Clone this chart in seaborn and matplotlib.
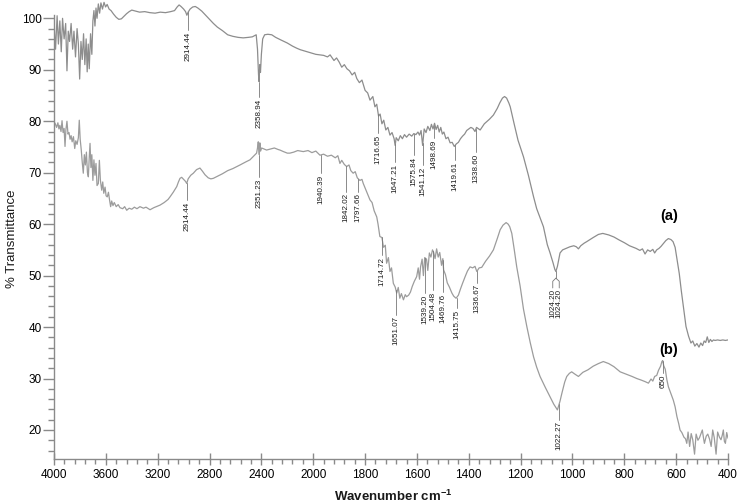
import numpy as np
import pandas as pd
import matplotlib
matplotlib.use("Agg")
import matplotlib.pyplot as plt
import seaborn as sns
from matplotlib.ticker import FixedLocator, FixedFormatter, NullFormatter

# ---------------- data ----------------
wn_a = [4000, 3988, 3976, 3966, 3955, 3944, 3934, 3922, 3910, 3900, 3890, 3880, 3868, 3856, 3846,
        3834, 3822, 3812, 3802, 3792, 3782, 3772, 3762, 3752, 3744, 3736, 3728, 3718, 3708, 3700,
        3692, 3684, 3676, 3668, 3658, 3648, 3638, 3626, 3614, 3602, 3590, 3575, 3560, 3540, 3520,
        3500, 3480, 3460, 3440, 3420, 3400, 3370, 3340, 3300, 3260, 3220, 3180, 3140, 3100, 3070,
        3050, 3035, 3020, 3000, 2985, 2975, 2965, 2950, 2930, 2910, 2890, 2860, 2830, 2800, 2770,
        2740, 2700, 2660, 2620, 2580, 2540, 2500, 2470, 2440, 2430, 2422, 2418, 2412, 2407, 2400,
        2390, 2375, 2350, 2320, 2290, 2250, 2200, 2160, 2128, 2100, 2060, 2020, 1990, 1960, 1945,
        1935, 1920, 1910, 1900, 1890, 1880, 1870, 1860, 1850, 1840, 1832, 1822, 1812, 1800, 1790,
        1781, 1770, 1762, 1755, 1748, 1742, 1735, 1728, 1720, 1712, 1704, 1696, 1688, 1684, 1680,
        1672, 1664, 1656, 1648, 1640, 1630, 1620, 1612, 1604, 1596, 1590, 1584, 1578, 1572, 1565,
        1558, 1550, 1544, 1538, 1532, 1526, 1520, 1514, 1508, 1502, 1496, 1488, 1480, 1472, 1464,
        1456, 1448, 1440, 1432, 1424, 1416, 1408, 1400, 1392, 1384, 1376, 1370, 1362, 1356, 1340,
        1320, 1305, 1290, 1280, 1270, 1262, 1254, 1245, 1240, 1225, 1210, 1189, 1170, 1150, 1138,
        1112, 1097, 1087, 1075, 1068, 1064, 1058, 1048, 1038, 1029, 1010, 995, 985, 977, 968,
        955, 945, 920, 900, 883, 860, 840, 819, 800, 780, 755, 740, 730, 720, 710,
        700, 690, 683, 675, 666, 658, 650, 640, 630, 620, 612, 604, 596, 588, 580,
        572, 562, 552, 543, 536, 528, 520, 512, 505, 498, 492, 486, 480, 474, 468,
        462, 456, 450, 440, 430, 420, 410, 400]
t_a = [99, 94, 100.5, 95, 99.5, 93.5, 100, 96, 99, 89.8, 97.5, 95.5, 99, 94, 97.5,
       92.5, 98, 95, 88.2, 95.5, 92, 97, 91, 96, 89.6, 95, 90.2, 97, 93, 99.5,
       101.5, 98.5, 102, 100, 102.8, 101, 103, 101.8, 103.1, 102.2, 102.7, 101.8, 101.5, 100.8, 100.2,
       99.8, 99.9, 100.4, 100.9, 101.3, 101.6, 101.4, 101.2, 101.3, 101.1, 101, 101.2, 101.1, 101.3, 101.5,
       102.2, 102.6, 102.3, 101.8, 101.3, 100.6, 101.2, 101.8, 102.2, 102.3, 102, 101.4, 100.6, 99.8, 99,
       98.3, 97.6, 96.8, 96.5, 96.3, 96.2, 96.3, 96.4, 96.8, 94, 89, 87.7, 91, 89.5, 93,
       96, 96.8, 96.9, 96.8, 96.3, 95.8, 95.2, 94.6, 94.2, 93.9, 93.6, 93.3, 93, 92.8, 92.5,
       92.9, 91.8, 92.3, 91.5, 90.5, 91, 90.2, 89.8, 89, 89.5, 88.3, 87.5, 88, 86, 85.5,
       84.1, 84.8, 82.8, 83.3, 81, 81.4, 79.5, 80.2, 78.3, 78.8, 77.3, 77.8, 76.6, 75.3, 76.8,
       76.2, 77.2, 76.6, 77.4, 76.9, 77.5, 77.1, 77.6, 77.4, 77.9, 77.3, 78.2, 75.3, 78.5, 77.8,
       79, 78.2, 79.4, 78.5, 79.6, 78.4, 79.2, 77.9, 78.8, 77.5, 77.9, 76.6, 76.9, 75.8, 75.9,
       75.1, 75.6, 75.9, 76.6, 77.1, 77.5, 78.2, 78.5, 78.8, 78.6, 78, 78.8, 78.5, 78.3, 79.5,
       80.4, 81.2, 82.5, 83.6, 84.5, 84.8, 84.5, 83.5, 82.8, 79.5, 76.3, 73.1, 69.5, 65.3, 63,
       59.5, 56, 54.5, 52.5, 51.2, 50.8, 51.8, 54.4, 55, 55.2, 55.6, 55.8, 55.6, 55.2, 55.8,
       56.3, 56.6, 57.4, 58, 58.2, 57.9, 57.5, 56.9, 56.4, 55.8, 55.3, 54.9, 55.2, 54.2, 55,
       54.7, 55.1, 54.4, 55, 55.3, 55.7, 56.2, 56.8, 57.2, 57.0, 56.6, 55.5, 53, 50.4, 47,
       44, 40.1, 38.2, 36.9, 37.3, 36.3, 36.8, 36.1, 36.9, 36.4, 37.3, 37.0, 38.1, 37.0, 37.6,
       37.2, 37.5, 37.4, 37.5, 37.4, 37.5, 37.4, 37.5]

wn_b = [4000, 3990, 3980, 3970, 3962, 3955, 3946, 3938, 3930, 3922, 3915, 3908, 3900, 3892, 3884,
        3876, 3868, 3860, 3850, 3840, 3832, 3822, 3812, 3805, 3798, 3790, 3782, 3774, 3766, 3758,
        3750, 3742, 3735, 3728, 3722, 3715, 3708, 3700, 3692, 3684, 3676, 3668, 3658, 3650, 3642,
        3632, 3624, 3616, 3606, 3598, 3589, 3580, 3572, 3563, 3555, 3545, 3535, 3520, 3505, 3491,
        3470, 3455, 3439, 3420, 3400, 3380, 3360, 3337, 3310, 3290, 3259, 3230, 3200, 3182, 3150,
        3120, 3105, 3080, 3053, 3040, 3028, 3015, 3000, 2985, 2976, 2965, 2945, 2925, 2900, 2874,
        2855, 2835, 2810, 2790, 2771, 2740, 2700, 2660, 2620, 2565, 2520, 2488, 2460, 2437, 2430,
        2424, 2420, 2416, 2412, 2406, 2398, 2380, 2360, 2330, 2300, 2270, 2257, 2230, 2200, 2180,
        2150, 2120, 2077, 2040, 2010, 1990, 1974, 1960, 1945, 1930, 1915, 1905, 1897, 1890, 1880,
        1871, 1862, 1855, 1846, 1838, 1830, 1820, 1812, 1807, 1798, 1790, 1781, 1773, 1765, 1755,
        1750, 1743, 1735, 1729, 1722, 1717, 1710, 1704, 1698, 1691, 1684, 1678, 1672, 1666, 1660,
        1652, 1645, 1640, 1632, 1625, 1618, 1610, 1601, 1595, 1590, 1586, 1580, 1575, 1570, 1563,
        1558, 1552, 1546, 1540, 1536, 1530, 1524, 1518, 1512, 1505, 1500, 1497, 1490, 1483, 1475,
        1465, 1458, 1449, 1440, 1432, 1424, 1414, 1405, 1395, 1385, 1376, 1369, 1360, 1350, 1335,
        1320, 1305, 1290, 1279, 1268, 1256, 1248, 1242, 1234, 1225, 1215, 1202, 1189, 1176, 1163,
        1150, 1138, 1125, 1105, 1087, 1072, 1058, 1048, 1041, 1030, 1022, 1012, 1003, 992, 977,
        960, 940, 920, 900, 881, 860, 840, 816, 790, 770, 752, 735, 720, 707, 697,
        690, 683, 675, 668, 660, 655, 652, 648, 642, 636, 630, 620, 611, 604, 597,
        590, 585, 578, 570, 564, 559, 554, 548, 542, 536, 529, 523, 516, 510, 504,
        499, 495, 491, 484, 478, 471, 465, 459, 453, 446, 440, 433, 427, 422, 418,
        414, 410, 405, 400]
t_b = [79.9, 79.5, 78.8, 79.7, 78.5, 79.2, 78, 80.1, 77.8, 78.6, 75.1, 78.4, 80, 77.5, 77.8,
       76.5, 77.2, 76, 77, 74.7, 76.2, 75.5, 76.8, 80.2, 76.5, 74.5, 72, 69.9, 73.5, 71.5,
       74, 70, 69.2, 73, 75.7, 71, 73.5, 68.5, 72.5, 69.5, 71.8, 67.5, 67.9, 72.4, 68.5,
       66.6, 68.2, 66, 67.2, 65.5, 65.3, 66.2, 64.8, 63.4, 64.5, 63.6, 64.2, 63.4, 63.8, 63.2,
       63, 63.4, 62.7, 63.1, 62.9, 63.3, 63, 63.4, 63.1, 63.3, 62.8, 63.2, 63.5, 63.7, 64.2,
       64.8, 65.3, 66.2, 67.3, 68.2, 68.9, 69.1, 68.7, 68.3, 67.9, 68.8, 69.5, 69.9, 70.6, 70.9,
       70.3, 69.6, 69, 68.8, 68.9, 69.3, 69.8, 70.4, 70.8, 71.5, 72.1, 72.5, 73.2, 73.8, 74.8,
       76, 74.5, 73.5, 75.8, 74.2, 74.8, 74.6, 74.4, 74.6, 74.8, 74.5, 74.4, 74.1, 73.8, 73.8,
       74, 74.3, 74.1, 74.3, 73.9, 74.2, 73.4, 73.6, 73.2, 73.4, 72.9, 73.3, 71.8, 72.4, 71.6,
       71.2, 71.5, 70.4, 69.9, 70.2, 69, 68.5, 68.7, 67.9, 66.8, 65.8, 64.7, 64.2, 62.6, 61.4,
       60, 57.6, 57.4, 55.5, 55.9, 52.4, 53.5, 50.8, 51.5, 48.5, 47.8, 46.6, 47.7, 45.6, 46.5,
       45.3, 46.3, 45.9, 46.2, 46.8, 47.9, 48.9, 49.8, 51.5, 49.3, 51.7, 53.2, 50, 53.5, 53.2,
       51, 54.4, 53.6, 55, 54.6, 53.3, 55.2, 53.6, 54.5, 52, 53.3, 51.1, 50.2, 48.6, 47.8,
       46.6, 46, 45.6, 46.2, 47.4, 48.5, 49.8, 50.9, 51.7, 51.5, 51.8, 50.8, 51.5, 51.6, 52.8,
       53.8, 55, 57.2, 58.9, 59.8, 60.3, 60, 59.5, 58.2, 55.2, 51.7, 48, 43.5, 40.1, 37,
       34.2, 32.2, 30.4, 28.3, 26.5, 25, 23.9, 25.6, 27.1, 29.3, 30.4, 31, 31.3, 30.9, 30.4,
       31.2, 31.7, 32.4, 32.9, 33.3, 32.9, 32.3, 31.3, 30.8, 30.4, 30, 29.7, 29.4, 29.1, 29.9,
       29.5, 30.4, 30.6, 31.6, 32.4, 33.3, 33.5, 32.5, 31.8, 29.8, 28.4, 27, 25.8, 24.5, 22.6,
       21.2, 20, 19.5, 18.6, 18.3, 17.4, 19.6, 16.8, 19.3, 18.1, 15.3, 19.2, 18, 18.5, 19.3,
       20, 18.6, 17.4, 18.8, 19.2, 18.2, 16.8, 20, 18.5, 15.3, 19.6, 18.6, 18.1, 19, 20,
       17.8, 17.4, 19.5, 18.4]

# peak labels: text, position on the axis, level where the text starts
peaks_a_text = ["2914.44", "2358.94", "1716.65", "1647.21", "1575.84", "1541.12",
                "1498.69", "1419.61", "1338.60"]
peaks_a_wn = [2966, 2418, 1749, 1685, 1611, 1577, 1535, 1453, 1372]
peaks_a_level = [97.7, 84.7, 77.7, 72.1, 73.4, 71.5, 76.7, 72.5, 74.0]

pair_a_text = ["1024.20", "1024.20"]
pair_a_wn = [1076, 1051]
pair_a_min_wn = 1064
pair_a_branch = 49.5
pair_a_level = 47.6

peaks_b_text = ["2914.44", "2351.23", "1940.39", "1842.02", "1797.66", "1714.72", "1651.07",
                "1539.20", "1504.48", "1469.76", "1415.75", "1336.67", "1022.27", "650"]
peaks_b_wn = [2976, 2416, 1971, 1874, 1826, 1736, 1681, 1569, 1537, 1501, 1447, 1367, 1051, 652]
peaks_b_level = [64.7, 69.2, 69.9, 66.3, 66.3, 54.0, 42.4, 46.6, 47.2, 46.8, 43.7, 48.6, 22.0, 31.1]

series_names = ["(a)", "(b)"]
series_name_pos = [(628, 61.6), (628, 35.6)]

major_ticks = [4000, 3600, 3200, 2800, 2400, 2000, 1800, 1600, 1400, 1200, 1000, 800, 600, 400]
ytick_vals = [20, 30, 40, 50, 60, 70, 80, 90, 100]

# ---------------- style ----------------
sns.set_style("ticks")
plt.rcParams["font.family"] = ["Liberation Sans", "DejaVu Sans"]
plt.rcParams["mathtext.fontset"] = "custom"
plt.rcParams["mathtext.rm"] = "Liberation Sans"
plt.rcParams["mathtext.bf"] = "Liberation Sans:bold"

AX_COL = "#8a8a8a"
LINE_A = "#8d8d8d"
LINE_B = "#9c9c9c"
TXT = "#1a1a1a"

fig = plt.figure(figsize=(7.4, 5.04), dpi=100)
ax = fig.add_axes([54 / 740, 45 / 504, 674 / 740, 459 / 504])

df_a = pd.DataFrame({"wavenumber": wn_a, "T": t_a})
df_b = pd.DataFrame({"wavenumber": wn_b, "T": t_b})

sns.lineplot(data=df_a, x="wavenumber", y="T", ax=ax, color=LINE_A, linewidth=0.9,
             estimator=None, sort=False)
sns.lineplot(data=df_b, x="wavenumber", y="T", ax=ax, color=LINE_B, linewidth=0.9,
             estimator=None, sort=False)


# piecewise axis: 400 units per division above 2000, 200 below
def fwd(w):
    w = np.asarray(w, dtype=float)
    return np.where(w > 2000, 2000 + (w - 2000) / 2.0, w)


def inv(v):
    v = np.asarray(v, dtype=float)
    return np.where(v > 2000, 2000 + (v - 2000) * 2.0, v)


ax.set_xscale("function", functions=(fwd, inv))
ax.set_xlim(4000, 400)
ax.set_ylim(14.36, 103.56)

ax.xaxis.set_major_locator(FixedLocator(major_ticks))
ax.xaxis.set_major_formatter(FixedFormatter([str(t) for t in major_ticks]))
minor_x = [w for w in range(4000, 2000, -80) if w not in major_ticks] + \
          [w for w in range(2000, 399, -40) if w not in major_ticks]
ax.xaxis.set_minor_locator(FixedLocator(minor_x))
ax.xaxis.set_minor_formatter(NullFormatter())

ax.yaxis.set_major_locator(FixedLocator(ytick_vals))
ax.yaxis.set_major_formatter(FixedFormatter([str(t) for t in ytick_vals]))
ax.yaxis.set_minor_locator(FixedLocator([v for v in np.arange(16, 101, 2) if v % 10 != 0]))
ax.yaxis.set_minor_formatter(NullFormatter())

for s in ["top", "right"]:
    ax.spines[s].set_visible(False)
for s in ["left", "bottom"]:
    ax.spines[s].set_color(AX_COL)
    ax.spines[s].set_linewidth(1.0)
ax.spines["left"].set_bounds(14.36, 100.6)

ax.tick_params(axis="x", which="both", bottom=True, top=False)
ax.tick_params(axis="y", which="both", left=True, right=False)
ax.tick_params(axis="x", which="major", direction="inout", length=8, width=1.0,
               color=AX_COL, labelsize=8.5, labelcolor="black", pad=3)
ax.tick_params(axis="x", which="minor", direction="out", length=3.5, width=1.0, color=AX_COL)
ax.tick_params(axis="y", which="major", direction="out", length=8, width=1.0,
               color=AX_COL, labelsize=8.5, labelcolor="black", pad=1)
ax.tick_params(axis="y", which="minor", direction="out", length=4, width=1.0, color=AX_COL)

ax.set_xlabel("Wavenumber cm$^{\\mathbf{-1}}$", fontsize=9.5, fontweight="bold", color=TXT)
ax.set_ylabel("% Transmittance", fontsize=9.5, color=TXT)
ax.xaxis.set_label_coords(0.504, -0.066)
ax.yaxis.set_label_coords(-0.053, 0.48)


# peak annotations
def curve_at(wn, t, x):
    return float(np.interp(x, wn[::-1], t[::-1]))


wa, ta = np.array(wn_a, float), np.array(t_a, float)
wb, tb = np.array(wn_b, float), np.array(t_b, float)

for txt, x, lev in zip(peaks_a_text, peaks_a_wn, peaks_a_level):
    y0 = curve_at(wa, ta, x)
    ax.plot([x, x], [y0, lev], color="#777777", lw=0.6)
    ax.text(x, lev - 0.3, txt, rotation=90, ha="center", va="top", fontsize=5.8, color=TXT)

ymin_a = curve_at(wa, ta, pair_a_min_wn)
ax.plot([pair_a_min_wn, pair_a_min_wn], [ymin_a, pair_a_branch], color="#777777", lw=0.6)
for txt, x in zip(pair_a_text, pair_a_wn):
    ax.plot([pair_a_min_wn, x, x], [pair_a_branch, pair_a_branch - 0.6, pair_a_level],
            color="#777777", lw=0.6)
    ax.text(x, pair_a_level - 0.3, txt, rotation=90, ha="center", va="top", fontsize=5.8, color=TXT)

for txt, x, lev in zip(peaks_b_text, peaks_b_wn, peaks_b_level):
    y0 = curve_at(wb, tb, x)
    ax.plot([x, x], [y0, lev], color="#777777", lw=0.6)
    ax.text(x, lev - 0.3, txt, rotation=90, ha="center", va="top", fontsize=5.8, color=TXT)

for name, (x, y) in zip(series_names, series_name_pos):
    ax.text(x, y, name, ha="center", va="center", fontsize=10.5, fontweight="bold", color="black")

fig.savefig("out.png", dpi=100)
